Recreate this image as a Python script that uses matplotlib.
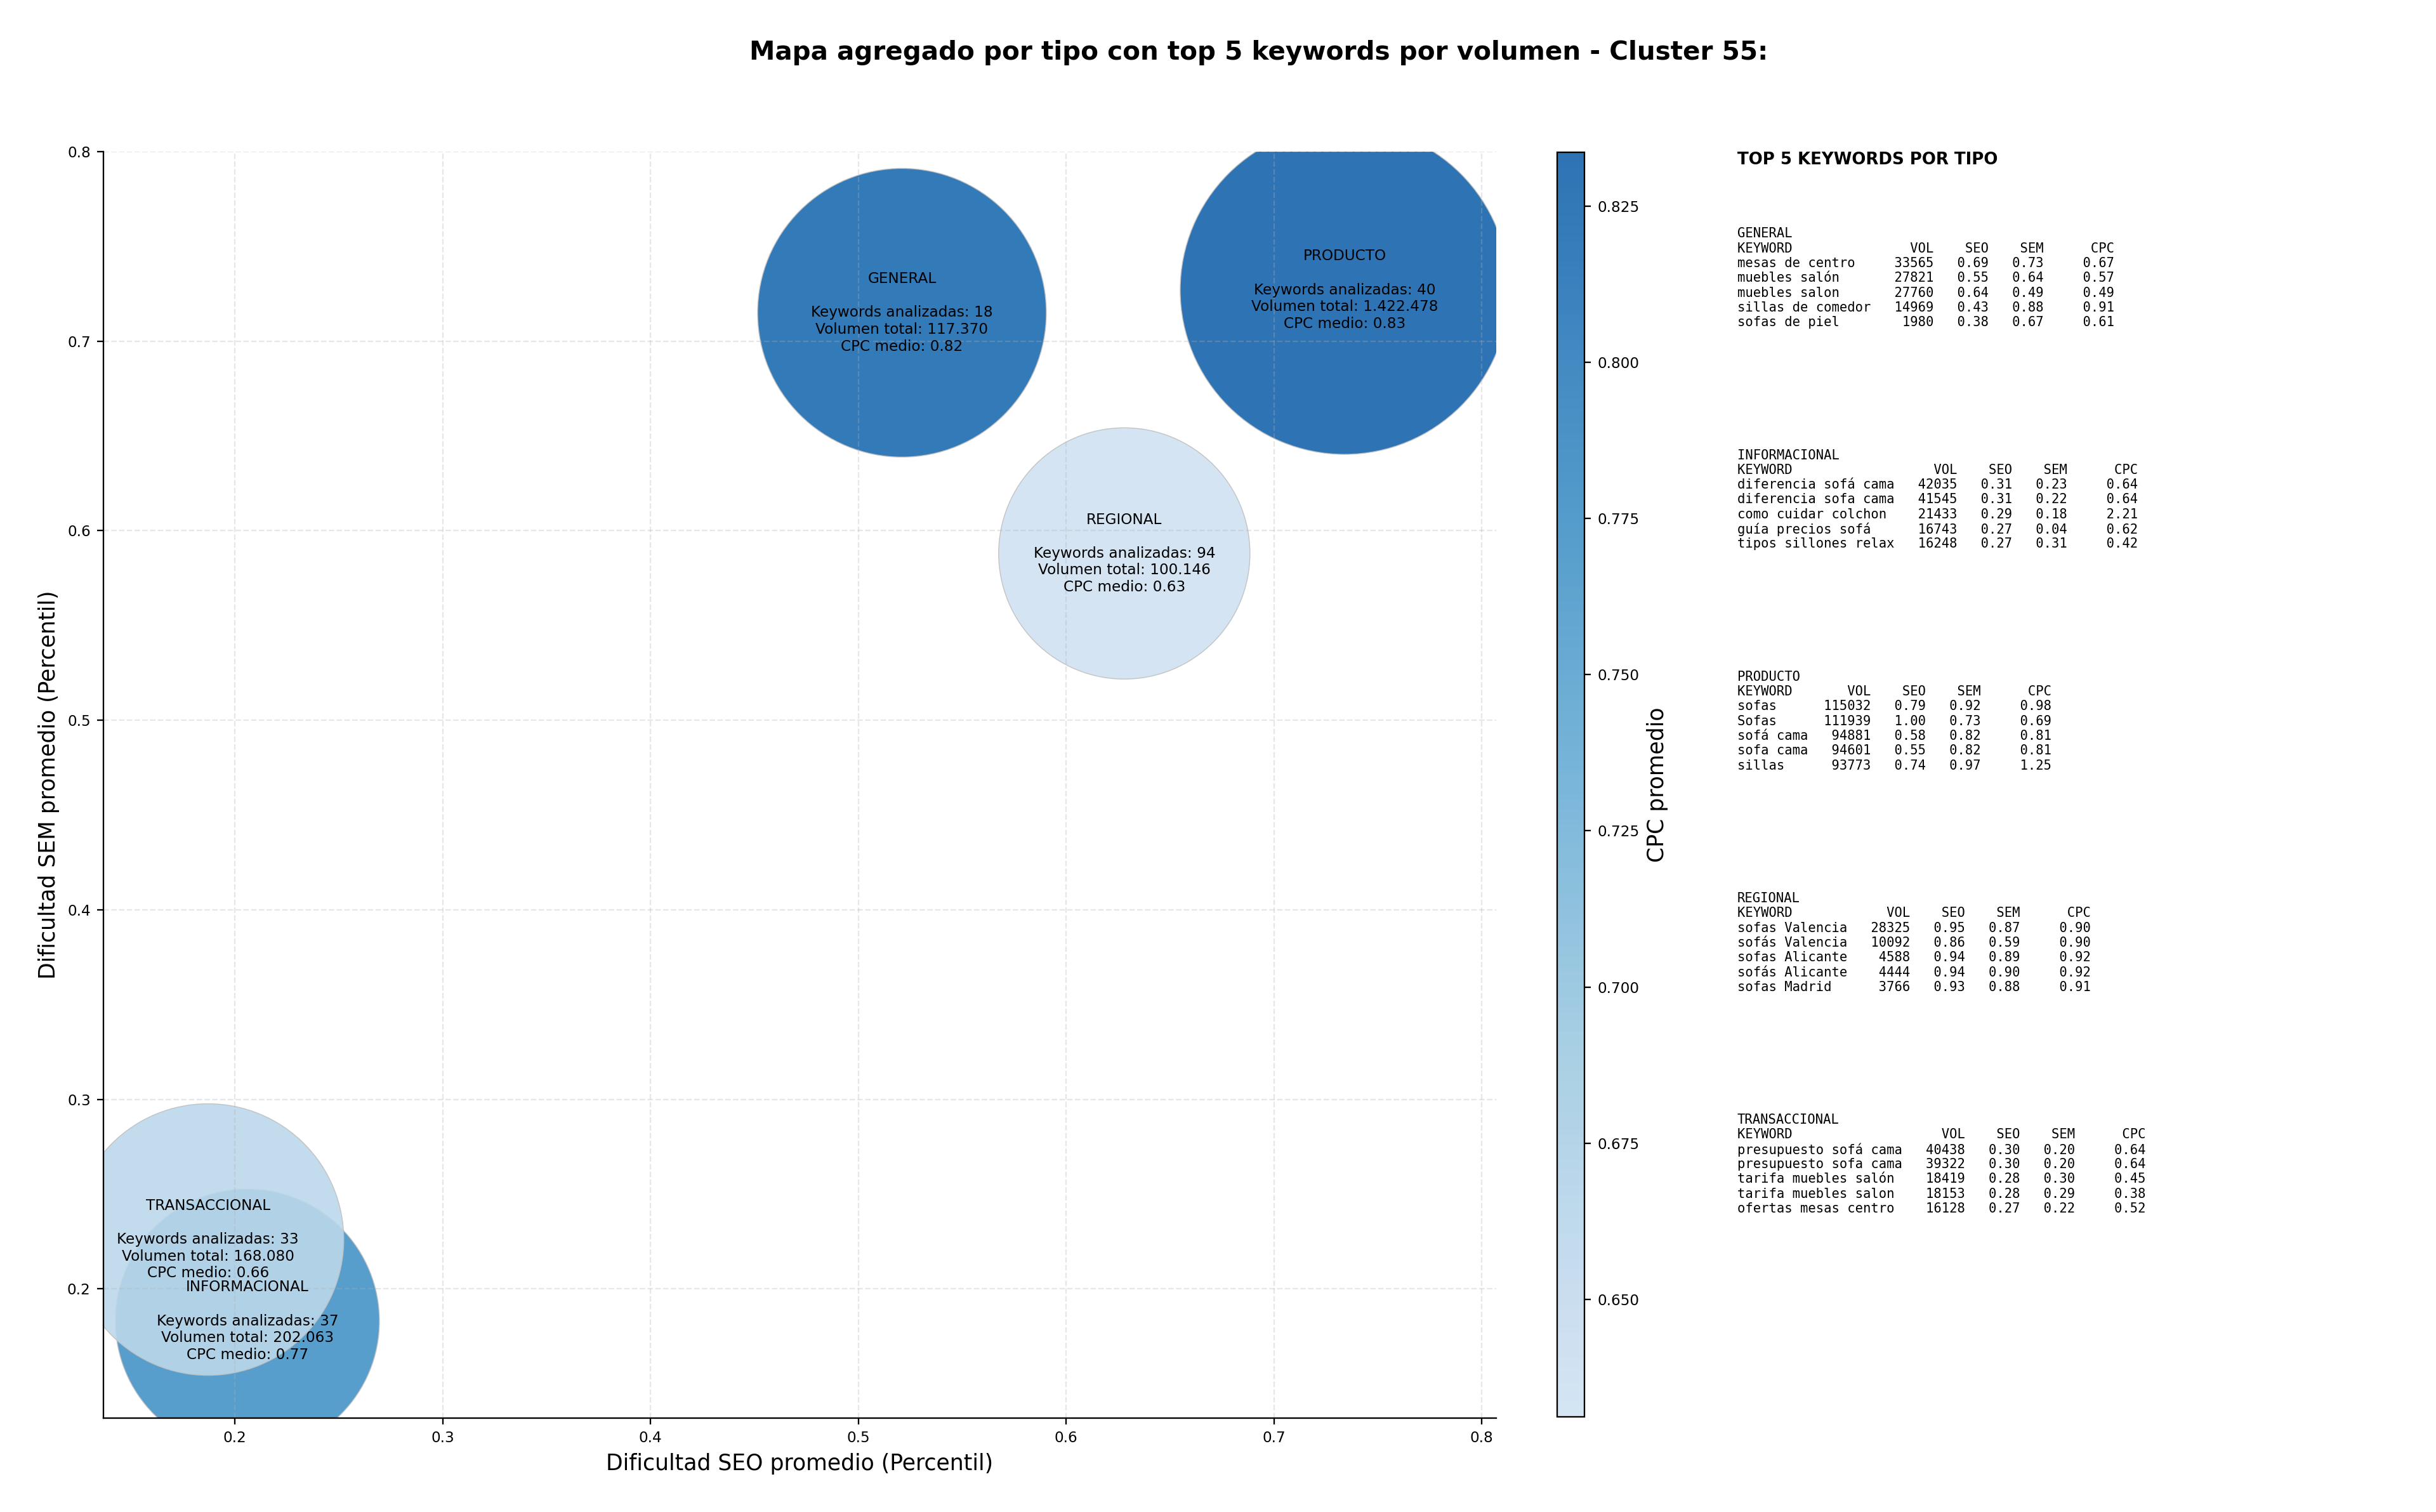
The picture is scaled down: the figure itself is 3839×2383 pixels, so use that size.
#!/usr/bin/env python3
"""
Mapa agregado por tipo de keyword (cluster 55) + panel con el top 5 por volumen.
"""
import numpy as np
import matplotlib
matplotlib.use("Agg")
import matplotlib.pyplot as plt
from matplotlib.colors import LinearSegmentedColormap, Normalize

# --- datos agregados por tipo ---
tipos       = ["GENERAL", "INFORMACIONAL", "PRODUCTO", "REGIONAL", "TRANSACCIONAL"]
seo_medio   = [0.521, 0.206, 0.734, 0.628, 0.187]
sem_medio   = [0.715, 0.183, 0.727, 0.588, 0.226]
cpc_medio   = [0.822, 0.771, 0.8336, 0.6312, 0.659]
n_keywords  = [18, 37, 40, 94, 33]
vol_total   = [117370, 202063, 1422478, 100146, 168080]
bubble_area = [24800, 20740, 32150, 18790, 21950]

# --- top 5 keywords por tipo: (keyword, vol, seo, sem, cpc) ---
top_general = [
    ("mesas de centro", 33565, 0.69, 0.73, 0.67),
    ("muebles salón", 27821, 0.55, 0.64, 0.57),
    ("muebles salon", 27760, 0.64, 0.49, 0.49),
    ("sillas de comedor", 14969, 0.43, 0.88, 0.91),
    ("sofas de piel", 1980, 0.38, 0.67, 0.61),
]
top_informacional = [
    ("diferencia sofá cama", 42035, 0.31, 0.23, 0.64),
    ("diferencia sofa cama", 41545, 0.31, 0.22, 0.64),
    ("como cuidar colchon", 21433, 0.29, 0.18, 2.21),
    ("guía precios sofá", 16743, 0.27, 0.04, 0.62),
    ("tipos sillones relax", 16248, 0.27, 0.31, 0.42),
]
top_producto = [
    ("sofas", 115032, 0.79, 0.92, 0.98),
    ("Sofas", 111939, 1.00, 0.73, 0.69),
    ("sofá cama", 94881, 0.58, 0.82, 0.81),
    ("sofa cama", 94601, 0.55, 0.82, 0.81),
    ("sillas", 93773, 0.74, 0.97, 1.25),
]
top_regional = [
    ("sofas Valencia", 28325, 0.95, 0.87, 0.90),
    ("sofás Valencia", 10092, 0.86, 0.59, 0.90),
    ("sofas Alicante", 4588, 0.94, 0.89, 0.92),
    ("sofás Alicante", 4444, 0.94, 0.90, 0.92),
    ("sofas Madrid", 3766, 0.93, 0.88, 0.91),
]
top_transaccional = [
    ("presupuesto sofá cama", 40438, 0.30, 0.20, 0.64),
    ("presupuesto sofa cama", 39322, 0.30, 0.20, 0.64),
    ("tarifa muebles salón", 18419, 0.28, 0.30, 0.45),
    ("tarifa muebles salon", 18153, 0.28, 0.29, 0.38),
    ("ofertas mesas centro", 16128, 0.27, 0.22, 0.52),
]
tops = [top_general, top_informacional, top_producto, top_regional, top_transaccional]

W, H, DPI = 3840, 2383, 208
fig = plt.figure(figsize=(W / DPI, H / DPI), dpi=DPI)

ax  = fig.add_axes([163 / W, 1 - 2235 / H, (2358 - 163) / W, (2235 - 239) / H])
cax = fig.add_axes([2454 / W, 1 - 2233 / H, 43 / W, (2233 - 240) / H])

# Blues recortado (sin los extremos)
cmap = LinearSegmentedColormap.from_list(
    "blues_mid", plt.get_cmap("Blues")(np.linspace(0.2, 0.8, 256)))
norm = Normalize(min(cpc_medio), max(cpc_medio))

sc = ax.scatter(seo_medio, sem_medio, s=bubble_area, c=cpc_medio, cmap=cmap,
                norm=norm, alpha=0.9, edgecolors="silver", linewidths=0.5)

for t, x, y, n, v, c in zip(tipos, seo_medio, sem_medio, n_keywords, vol_total, cpc_medio):
    vol_txt = f"{v:,}".replace(",", ".")
    ax.text(x, y, f"{t}\n\nKeywords analizadas: {n}\nVolumen total: {vol_txt}\nCPC medio: {c:.2f}",
            ha="center", va="center", fontsize=8)

ax.set_xlim(0.1367, 0.807)
ax.set_ylim(0.1318, 0.8)
ax.set_xlabel("Dificultad SEO promedio (Percentil)", fontsize=12)
ax.set_ylabel("Dificultad SEM promedio (Percentil)", fontsize=12)
ax.tick_params(labelsize=8)
ax.grid(True, linestyle="--", alpha=0.3)
ax.spines["top"].set_visible(False)
ax.spines["right"].set_visible(False)

cb = fig.colorbar(sc, cax=cax)
cb.set_label("CPC promedio", fontsize=12)
cb.ax.tick_params(labelsize=8)

fig.text(1984 / W, 1 - 83 / H,
         "Mapa agregado por tipo con top 5 keywords por volumen - Cluster 55:",
         ha="center", va="center", fontsize=14, fontweight="bold")

# --- panel de texto con el top 5 ---
x0 = 2738 / W
fig.text(x0, 1 - 252 / H, "TOP 5 KEYWORDS POR TIPO", fontsize=9,
         fontweight="bold", va="center")

line_h = 23.33
for k, (t, rows) in enumerate(zip(tipos, tops)):
    w = max(len(r[0]) for r in rows)
    lines = [t, f"{'KEYWORD':<{w}}{'VOL':>8}{'SEO':>7}{'SEM':>7}{'CPC':>9}"]
    for kw, vol, seo, sem, cpc in rows:
        lines.append(f"{kw:<{w}}{vol:>8}{seo:>7.2f}{sem:>7.2f}{cpc:>9.2f}")
    y_top = 368.3 + k * 349.2
    for i, line in enumerate(lines):
        fig.text(x0, 1 - (y_top + i * line_h) / H, line, family="DejaVu Sans Mono",
                 fontsize=7.1, va="center")

fig.savefig("out.png", dpi=DPI)
